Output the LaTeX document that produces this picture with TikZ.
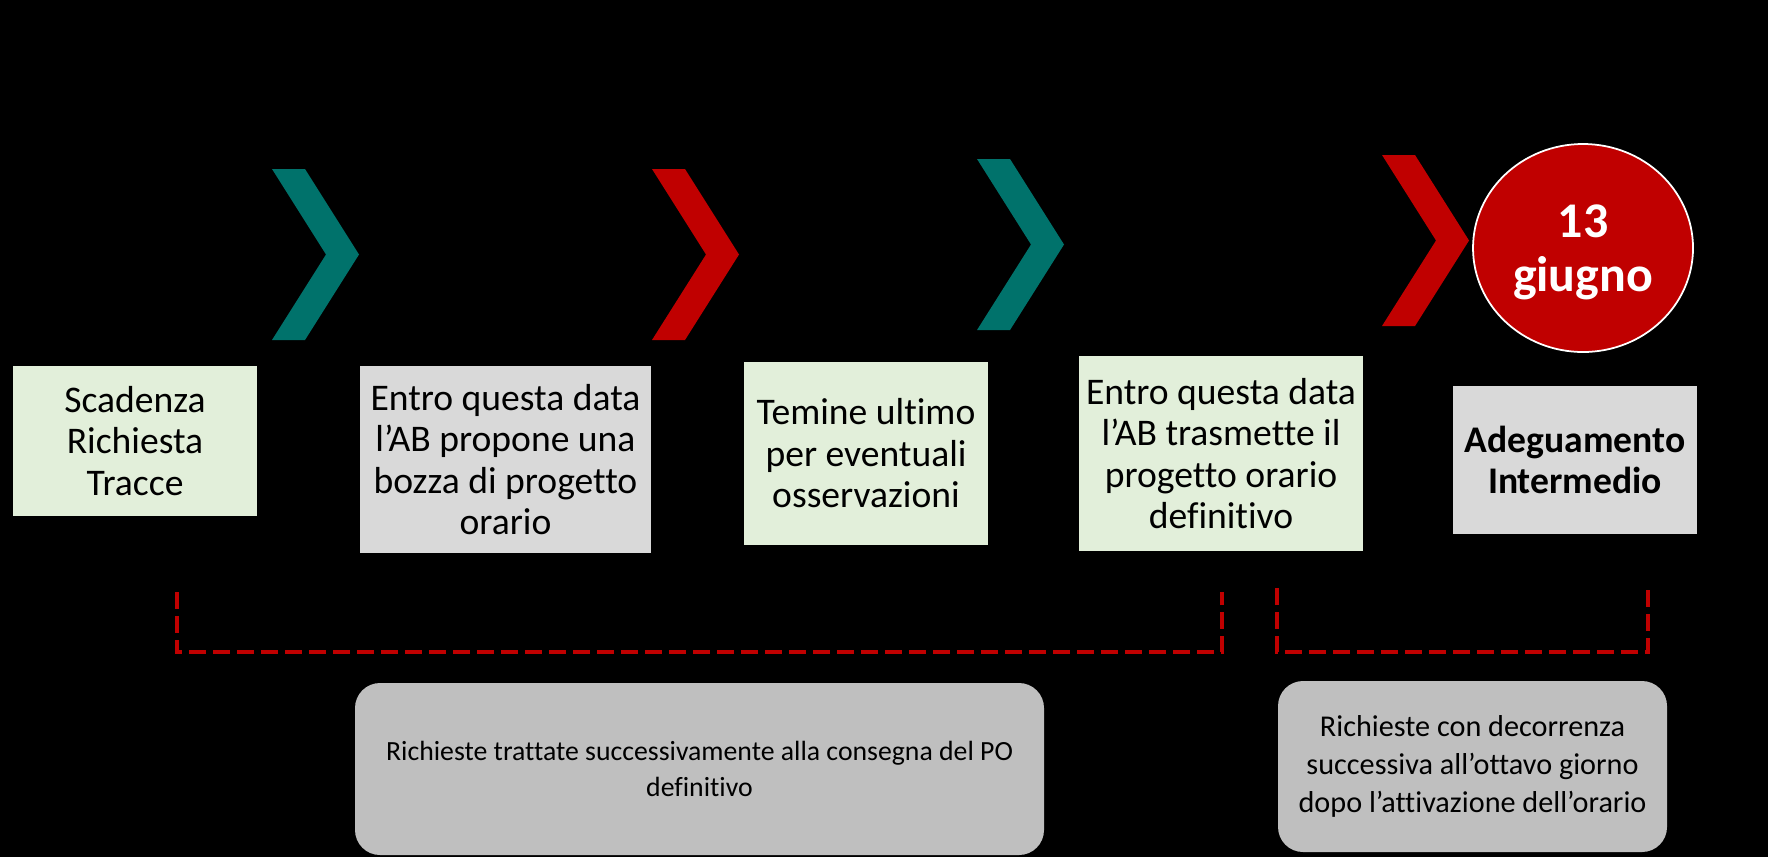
\documentclass[tikz,border=0pt]{standalone}
\usepackage{fontspec}
\setmainfont{Carlito}[Ligatures=NoCommon]
\usepackage{tikz}
\usetikzlibrary{shapes.geometric}
\definecolor{darkred}{RGB}{192,0,0}
\definecolor{tealgreen}{RGB}{0,114,107}
\definecolor{palegreen}{RGB}{226,239,218}
\definecolor{palegray}{RGB}{217,217,217}
\definecolor{midgray}{RGB}{191,191,191}
\begin{document}
\begin{tikzpicture}[
datebox/.style={rectangle,inner sep=0pt,align=center,minimum width=2.44cm,font=\fontsize{10.7pt}{11.8pt}\selectfont},
notebox/.style={rectangle,rounded corners=0.25cm,fill=midgray,inner sep=0pt,align=center,font=\fontsize{8.2pt}{10.2pt}\selectfont},
bracket/.style={darkred,line width=1.4pt,dash pattern=on 0.17cm off 0.07cm}]
\fill[black] (0,0) rectangle (17.68,-8.57);
\useasboundingbox (0,0) rectangle (17.68,-8.57);
% chevrons
\fill[tealgreen] (2.72,-1.69) -- ++(0.33,0) -- ++(0.54,-0.855) -- ++(-0.54,-0.855) -- ++(-0.33,0) -- ++(0.54,0.855) -- cycle;
\fill[darkred] (6.52,-1.69) -- ++(0.33,0) -- ++(0.54,-0.855) -- ++(-0.54,-0.855) -- ++(-0.33,0) -- ++(0.54,0.855) -- cycle;
\fill[tealgreen] (9.77,-1.59) -- ++(0.33,0) -- ++(0.54,-0.855) -- ++(-0.54,-0.855) -- ++(-0.33,0) -- ++(0.54,0.855) -- cycle;
\fill[darkred] (13.82,-1.55) -- ++(0.33,0) -- ++(0.54,-0.855) -- ++(-0.54,-0.855) -- ++(-0.33,0) -- ++(0.54,0.855) -- cycle;
\node[ellipse,fill=darkred,draw=white,line width=0.5pt,minimum width=2.2cm,minimum height=2.08cm,inner sep=0pt,
  label={[text=white,align=center,yshift=-0.04cm,font=\fontsize{14.2pt}{15.4pt}\selectfont\bfseries]center:13\\giugno}] (date) at (15.83,-2.48) {};
% milestones
\node[datebox,fill=palegreen,minimum height=1.50cm] (tracce) at (1.35,-4.41) {Scadenza\\Richiesta\\Tracce};
\node[datebox,fill=palegray,minimum width=2.91cm,minimum height=1.87cm] (bozza) at (5.055,-4.595) {Entro questa data\\l’AB propone una\\bozza di progetto\\orario};
\node[datebox,fill=palegreen,minimum height=1.83cm] (osserv) at (8.66,-4.535) {Temine ultimo\\per eventuali\\osservazioni};
\node[datebox,fill=palegreen,minimum width=2.84cm,minimum height=1.95cm] (defin) at (12.21,-4.535) {Entro questa data\\l’AB trasmette il\\progetto orario\\definitivo};
\node[datebox,fill=palegray,minimum height=1.48cm,font=\fontsize{10.7pt}{11.8pt}\selectfont\bfseries] (adeg) at (15.75,-4.60) {Adeguamento\\Intermedio};
% periods
\draw[bracket] (1.77,-5.92) -- (1.77,-6.52) -- (12.22,-6.52) -- (12.22,-5.92);
\draw[bracket] (12.77,-5.88) -- (12.77,-6.52) -- (16.48,-6.52) -- (16.48,-5.85);
\node[notebox,minimum width=6.89cm,minimum height=1.72cm,font=\fontsize{7.9pt}{10.2pt}\selectfont] (dopo) at (6.995,-7.69) {Richieste trattate successivamente alla consegna del PO\\definitivo};
\node[notebox,minimum width=3.89cm,minimum height=1.71cm,font=\fontsize{8.6pt}{10.9pt}\selectfont] (ottavo) at (14.725,-7.665) {Richieste con decorrenza\\successiva all’ottavo giorno\\dopo l’attivazione dell’orario};
\end{tikzpicture}
\end{document}
